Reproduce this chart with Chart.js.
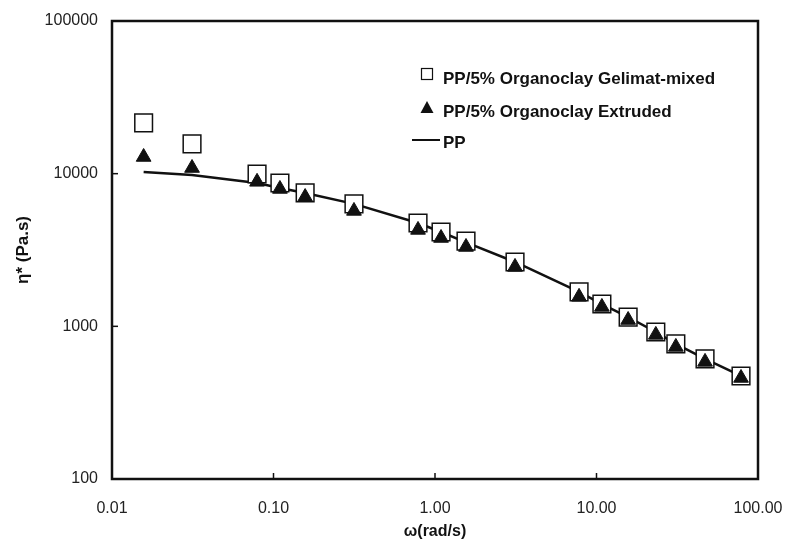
<!DOCTYPE html>
<html>
<head>
<meta charset="utf-8">
<script src="https://cdn.jsdelivr.net/npm/chart.js@4"></script>
<style>
  html, body { margin: 0; padding: 0; background: #fff; }
  #wrap { width: 787px; height: 551px; }
</style>
</head>
<body>
<div id="wrap"><canvas id="myChart"></canvas></div>
<script>
"use strict";

// frequency (rad/s)
const omega = [0.0157, 0.0313, 0.0791, 0.1096, 0.157, 0.315, 0.785, 1.09, 1.556, 3.13, 7.8, 10.8, 15.7, 23.3, 31.0, 47.0, 78.5];

// complex viscosity (Pa.s)
const gelimatMixed = [21500, 15670, 9950, 8690, 7480, 6340, 4750, 4150, 3620, 2640, 1680, 1400, 1150, 918, 767, 612, 473];
const extruded = [12860, 10890, 8840, 7940, 7030, 5700, 4280, 3790, 3310, 2450, 1560, 1340, 1100, 879, 733, 585, 459];
const pp = [10260, 9810, 8690, 8050, 7480, 6340, 4750, 4150, 3550, 2640, 1680, 1400, 1150, 918, 767, 612, 473];

const xTicks = [0.01, 0.1, 1, 10, 100];
const yTicks = [100, 1000, 10000, 100000];

const seriesNames = ['PP/5% Organoclay Gelimat-mixed', 'PP/5% Organoclay Extruded', 'PP'];

Chart.defaults.font.family = '"Liberation Sans", Arial, sans-serif';
Chart.defaults.color = '#222';

function toPoints(ys) {
    return omega.map((x, i) => ({ x: x, y: ys[i] }));
}

// black frame round the plot, inward ticks and the legend
const framePlugin = {
    id: 'frame',
    afterDraw(chart) {
        const ctx = chart.ctx;
        const a = chart.chartArea;
        const xs = chart.scales.x;
        const ys = chart.scales.y;
        ctx.save();
        ctx.strokeStyle = '#111';
        ctx.lineWidth = 2.5;
        ctx.strokeRect(a.left, a.top, a.right - a.left, a.bottom - a.top);

        ctx.lineWidth = 1.5;
        xTicks.slice(1, -1).forEach(v => {
            const px = xs.getPixelForValue(v);
            ctx.beginPath();
            ctx.moveTo(px, a.bottom);
            ctx.lineTo(px, a.bottom - 6);
            ctx.stroke();
        });
        yTicks.slice(1, -1).forEach(v => {
            const py = ys.getPixelForValue(v);
            ctx.beginPath();
            ctx.moveTo(a.left, py);
            ctx.lineTo(a.left + 6, py);
            ctx.stroke();
        });

        // legend
        const lx = 427;
        const markY = [74, 107, 140];
        const textY = [84, 117, 148];
        ctx.fillStyle = '#111';
        ctx.font = 'bold 17px "Liberation Sans", Arial, sans-serif';
        ctx.textBaseline = 'alphabetic';
        seriesNames.forEach((name, i) => {
            ctx.fillText(name, 443, textY[i]);
        });
        ctx.lineWidth = 1.2;
        ctx.strokeRect(lx - 5.5, markY[0] - 5.5, 11, 11);
        ctx.beginPath();
        ctx.moveTo(lx, markY[1] - 6);
        ctx.lineTo(lx + 6.5, markY[1] + 6);
        ctx.lineTo(lx - 6.5, markY[1] + 6);
        ctx.closePath();
        ctx.fill();
        ctx.lineWidth = 2;
        ctx.beginPath();
        ctx.moveTo(412, markY[2]);
        ctx.lineTo(440, markY[2]);
        ctx.stroke();
        ctx.restore();
    }
};

const ctx = document.getElementById('myChart');

new Chart(ctx, {
    type: 'scatter',
    data: {
        datasets: [
            {
                label: seriesNames[1],
                data: toPoints(extruded),
                pointStyle: 'triangle',
                pointRadius: 8.5,
                backgroundColor: '#111',
                borderColor: '#111',
                borderWidth: 1,
                order: 0
            },
            {
                label: seriesNames[0],
                data: toPoints(gelimatMixed),
                pointStyle: 'rect',
                pointRadius: 12.5,
                backgroundColor: '#fff',
                borderColor: '#111',
                borderWidth: 1.5,
                order: 1
            },
            {
                label: seriesNames[2],
                data: toPoints(pp),
                showLine: true,
                tension: 0,
                pointRadius: 0,
                borderColor: '#111',
                borderWidth: 2.5,
                order: 2
            }
        ]
    },
    options: {
        responsive: true,
        maintainAspectRatio: false,
        animation: false,
        layout: {
            padding: { top: 21, right: 29, left: 0, bottom: 0 }
        },
        plugins: {
            legend: { display: false },
            tooltip: { enabled: false }
        },
        scales: {
            x: {
                type: 'logarithmic',
                min: 0.01,
                max: 100,
                afterBuildTicks: s => { s.ticks = xTicks.map(v => ({ value: v })); },
                afterFit: s => {
                    s.height = 72;
                    s.paddingLeft = 0;
                    s.paddingRight = 0;
                },
                grid: { display: false, drawTicks: false },
                border: { display: false },
                ticks: {
                    padding: 20,
                    autoSkip: false,
                    maxRotation: 0,
                    font: { size: 16 },
                    callback: v => Number(v).toFixed(2)
                },
                title: {
                    display: true,
                    text: 'ω(rad/s)',
                    color: '#111',
                    font: { size: 16, weight: 'bold' },
                    padding: { top: 0, bottom: 10 }
                }
            },
            y: {
                type: 'logarithmic',
                min: 100,
                max: 100000,
                afterBuildTicks: s => { s.ticks = yTicks.map(v => ({ value: v })); },
                afterFit: s => {
                    s.width = 112;
                    s.paddingTop = 0;
                    s.paddingBottom = 0;
                },
                grid: { display: false, drawTicks: false },
                border: { display: false },
                ticks: {
                    padding: 14,
                    autoSkip: false,
                    font: { size: 16 },
                    callback: v => String(v)
                },
                title: {
                    display: true,
                    text: 'η* (Pa.s)',
                    color: '#111',
                    font: { size: 17, weight: 'bold' },
                    padding: { top: 13, bottom: 0 }
                }
            }
        }
    },
    plugins: [framePlugin]
});
</script>
</body>
</html>
